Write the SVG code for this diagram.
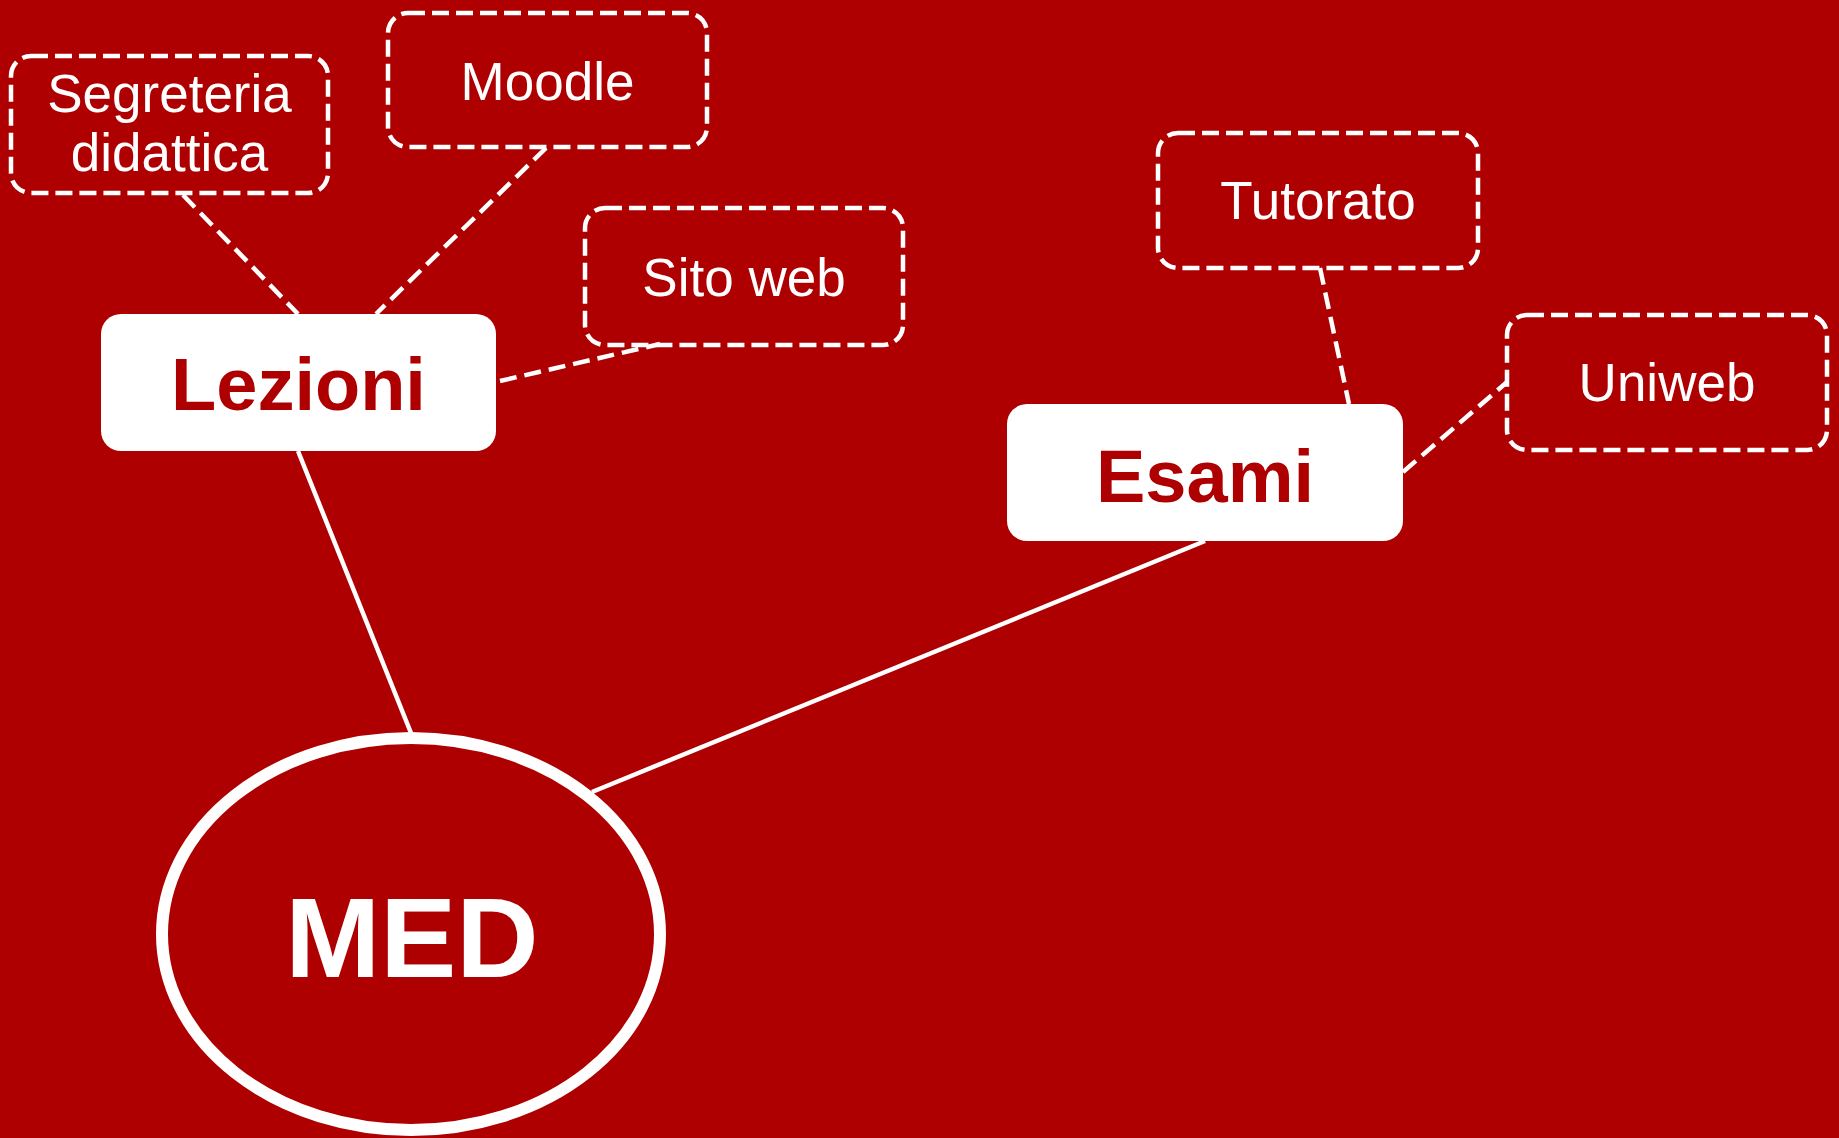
<svg xmlns="http://www.w3.org/2000/svg" width="1839" height="1138" viewBox="0 0 1839 1138">
<style>
.note{fill:none;stroke:#fff;stroke-width:4.5;stroke-dasharray:17 7}
.ntext{font-family:"Liberation Sans",Arial,sans-serif;font-size:53px;fill:#fff;text-anchor:middle}
.main{fill:#fff;stroke:none}
.mtext{font-family:"Liberation Sans",Arial,sans-serif;font-size:74px;font-weight:bold;fill:#AE0000;text-anchor:middle}
.solid{stroke:#fff;stroke-width:4.5;fill:none}
.dash{stroke:#fff;stroke-width:4.5;fill:none;stroke-dasharray:17 8}
</style>
<rect x="0" y="0" width="1839" height="1138" fill="#AE0000"/>
<g id="connectors">
<line class="solid" x1="298" y1="451" x2="411" y2="733"/>
<line class="solid" x1="1205" y1="541" x2="592" y2="792"/>
<line class="dash" x1="183" y1="195" x2="298" y2="314"/>
<line class="dash" x1="546" y1="148" x2="376" y2="314"/>
<line class="dash" x1="500" y1="381" x2="660" y2="344"/>
<line class="dash" x1="1320" y1="268" x2="1349" y2="404"/>
<line class="dash" x1="1403" y1="472" x2="1507" y2="382"/>
</g>
<g id="segreteria">
<rect class="note" x="11" y="56" width="317" height="137" rx="20"/>
<text class="ntext" x="169.5" y="112">Segreteria</text>
<text class="ntext" x="169.5" y="171">didattica</text>
</g>
<g id="moodle">
<rect class="note" x="388" y="13" width="319" height="134" rx="20"/>
<text class="ntext" x="547.5" y="100">Moodle</text>
</g>
<g id="sitoweb">
<rect class="note" x="585" y="208" width="318" height="137" rx="20"/>
<text class="ntext" x="744" y="296">Sito web</text>
</g>
<g id="tutorato">
<rect class="note" x="1158" y="133" width="320" height="135" rx="20"/>
<text class="ntext" x="1318" y="219">Tutorato</text>
</g>
<g id="uniweb">
<rect class="note" x="1507" y="315" width="320" height="135" rx="20"/>
<text class="ntext" x="1667" y="401">Uniweb</text>
</g>
<g id="lezioni">
<rect class="main" x="101" y="314" width="395" height="137" rx="20"/>
<text class="mtext" x="298.5" y="410">Lezioni</text>
</g>
<g id="esami">
<rect class="main" x="1007" y="404" width="396" height="137" rx="20"/>
<text class="mtext" x="1205" y="502">Esami</text>
</g>
<g id="med">
<ellipse cx="411" cy="934" rx="249" ry="196" fill="none" stroke="#fff" stroke-width="12"/>
<text x="412" y="977" font-family="Liberation Sans,Arial,sans-serif" font-size="114" font-weight="bold" fill="#fff" text-anchor="middle">MED</text>
</g>
</svg>
